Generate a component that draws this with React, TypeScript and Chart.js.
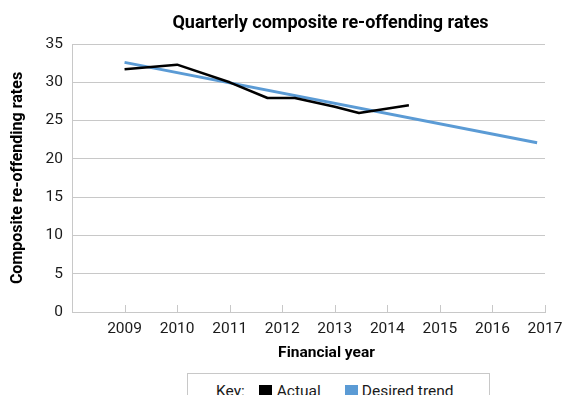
import React, { useEffect, useRef } from 'react';
import { Chart, registerables } from 'chart.js';

Chart.register(...registerables);

// ---- data ----
const actualYears = [2009, 2010, 2011, 2011.72, 2012.24, 2013, 2013.46, 2014.41];
const actualRates = [31.7, 32.3, 30.0, 27.95, 27.95, 26.8, 26.0, 27.0];
const trendYears = [2009, 2016.85];
const trendRates = [32.6, 22.1];
const xMin = 2008;
const xMax = 2017;
const yMin = 0;
const yMax = 35;
const yStep = 5;
const chartTitle = 'Quarterly composite re-offending rates';
const xTitle = 'Financial year';
const yTitle = 'Composite re-offending rates';
const seriesNames = ['Actual', 'Desired trend'];
const seriesColors = ['#000000', '#5b9bd5'];
const legendKey = 'Key:';

const FONT = 'Roboto';
const GRID = '#c8c8c8';
const TEXT = '#1a1a1a';
const W = 555;
const H = 360;

const titlesPlugin = {
  id: 'customTitles',
  afterDraw(chart: any) {
    const { ctx, chartArea } = chart;
    const xs = chart.scales.x;
    const cx = (chartArea.left + chartArea.right) / 2;
    ctx.save();
    ctx.textAlign = 'center';
    ctx.textBaseline = 'middle';
    // x tick labels (taken from the scale's own ticks)
    ctx.fillStyle = TEXT;
    ctx.font = `15.5px ${FONT}`;
    xs.ticks.forEach((t: any) => {
      if (t.value === xMin) return;
      ctx.fillText(String(t.value), xs.getPixelForValue(t.value), chartArea.bottom + 17.5);
    });
    ctx.fillStyle = '#000';
    ctx.font = `bold 18px ${FONT}`;
    ctx.fillText(chartTitle, cx + 22, 15);
    ctx.font = `bold 15.5px ${FONT}`;
    ctx.fillText(xTitle, cx + 18, chartArea.bottom + 41.5);
    ctx.restore();
  },
};

const innerTicksPlugin = {
  id: 'innerTicks',
  beforeDatasetsDraw(chart: any) {
    const { ctx, chartArea } = chart;
    const xs = chart.scales.x;
    ctx.save();
    ctx.strokeStyle = GRID;
    ctx.lineWidth = 1;
    xs.ticks.forEach((t: any) => {
      const px = Math.round(xs.getPixelForValue(t.value)) + 0.5;
      ctx.beginPath();
      ctx.moveTo(px, chartArea.bottom);
      ctx.lineTo(px, chartArea.bottom - 7);
      ctx.stroke();
    });
    ctx.restore();
  },
};

export default function App() {
  const ref = useRef<HTMLCanvasElement | null>(null);

  useEffect(() => {
    if (!ref.current) return;
    const chart = new Chart(ref.current, {
      type: 'line',
      data: {
        datasets: [
          {
            label: seriesNames[0],
            data: actualYears.map((x, i) => ({ x, y: actualRates[i] })),
            borderColor: seriesColors[0],
            backgroundColor: seriesColors[0],
            borderWidth: 2.5,
            pointRadius: 0,
            tension: 0,
            borderJoinStyle: 'round',
          },
          {
            label: seriesNames[1],
            data: trendYears.map((x, i) => ({ x, y: trendRates[i] })),
            borderColor: seriesColors[1],
            backgroundColor: seriesColors[1],
            borderWidth: 3,
            pointRadius: 0,
            tension: 0,
          },
        ],
      },
      options: {
        animation: false,
        responsive: false,
        layout: { padding: { top: 36, right: 18, left: 0, bottom: 0 } },
        plugins: {
          legend: { display: false },
          title: { display: false },
          tooltip: { enabled: false },
        },
        scales: {
          x: {
            type: 'linear',
            min: xMin,
            max: xMax,
            afterFit: (s: any) => {
              s.height = 56;
              s.paddingRight = 0;
              s.paddingLeft = 0;
            },
            grid: { drawOnChartArea: false, drawTicks: false },
            border: { color: GRID, width: 1 },
            ticks: {
              stepSize: 1,
              display: false,
            },
          },
          y: {
            min: yMin,
            max: yMax,
            afterFit: (s: any) => {
              s.width = 64;
            },
            grid: { color: GRID, drawTicks: false, lineWidth: 1 },
            border: { color: GRID, width: 1 },
            ticks: {
              stepSize: yStep,
              padding: 9,
              color: TEXT,
              font: { family: FONT, size: 15.5 },
            },
            title: {
              display: true,
              text: yTitle,
              color: '#000',
              font: { family: FONT, size: 16, weight: 'bold' },
              padding: { top: 0, bottom: 4 },
            },
          },
        },
      } as any,
      plugins: [titlesPlugin, innerTicksPlugin],
    });
    return () => chart.destroy();
  }, []);

  const sq = (c: string) => ({
    display: 'inline-block',
    width: 13,
    height: 12,
    background: c,
  });

  return (
    <div style={{ position: 'relative', width: W, height: 387 }}>
      <canvas ref={ref} width={W} height={H} style={{ display: 'block', width: W, height: H }} />
      <div
        style={{
          position: 'absolute',
          left: 179,
          top: 365,
          width: 303,
          height: 30,
          boxSizing: 'border-box',
          border: `1px solid ${GRID}`,
          borderBottom: 'none',
          fontFamily: FONT,
          fontSize: 15.5,
          color: TEXT,
          paddingTop: 8,
          paddingLeft: 28,
          whiteSpace: 'nowrap',
        }}
      >
        <div style={{ display: 'flex', alignItems: 'center', height: 18, lineHeight: '18px' }}>
          <span style={{ marginRight: 14 }}>{legendKey}</span>
          <span style={{ ...sq(seriesColors[0]), marginRight: 5 }} />
          <span style={{ marginRight: 24 }}>{seriesNames[0]}</span>
          <span style={{ ...sq(seriesColors[1]), marginRight: 4 }} />
          <span>{seriesNames[1]}</span>
        </div>
      </div>
    </div>
  );
}
